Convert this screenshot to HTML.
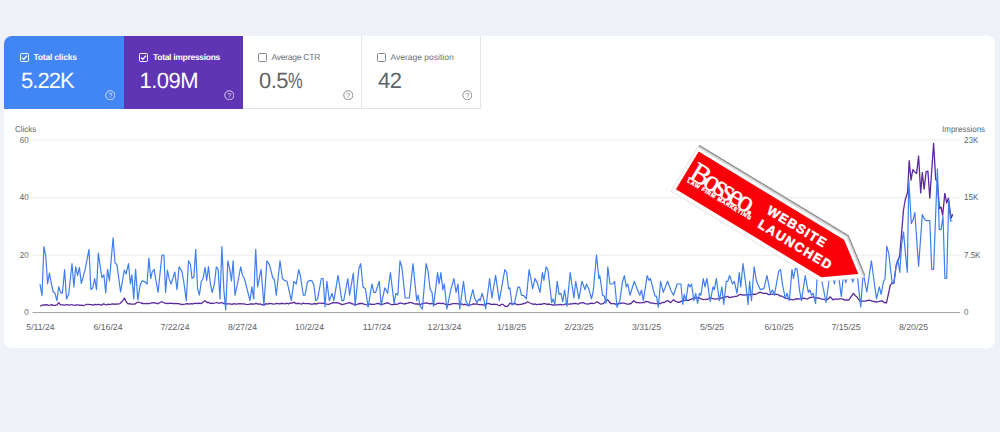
<!DOCTYPE html>
<html>
<head>
<meta charset="utf-8">
<title>Performance</title>
<style>
html,body{margin:0;padding:0;}
body{text-rendering:geometricPrecision;width:1000px;height:432px;overflow:hidden;background:#eff3f8;font-family:"Liberation Sans",sans-serif;position:relative;}
.card{position:absolute;left:4.2px;top:35.5px;width:990.7px;height:312px;background:#fff;border-radius:8px;}
.tile{position:absolute;top:35.5px;height:73px;box-sizing:border-box;}
.t1{left:4.2px;width:119.8px;background:#4285f4;border-top-left-radius:8px;color:#fff;}
.t2{left:124px;width:119px;background:#6035b4;color:#fff;}
.t3{left:243px;width:119px;background:#fff;color:#5f6368;border-right:1px solid #e3e5e8;border-bottom:1px solid #e3e5e8;}
.t4{left:362px;width:119px;background:#fff;color:#5f6368;border-right:1px solid #e3e5e8;border-bottom:1px solid #e3e5e8;}
.cb{position:absolute;left:15.5px;top:17.4px;width:9px;height:9px;box-sizing:border-box;border:1.2px solid currentColor;border-radius:1.5px;}
.cb svg{position:absolute;left:-1.2px;top:-1.2px;}
.lbl{position:absolute;left:29px;top:15.5px;font-size:8.5px;line-height:12px;white-space:nowrap;}
.t1 .cb,.t1 .lbl,.t1 .val{margin-left:.3px}
.t1 .lbl,.t2 .lbl{font-weight:bold;letter-spacing:-0.2px;}
.val{position:absolute;left:16.5px;top:32.2px;font-size:22px;line-height:26px;white-space:nowrap;letter-spacing:-0.5px;}
.t3 .cb,.t4 .cb{left:15px;color:#80868b;}
.t3 .lbl,.t4 .lbl{left:28.5px;color:#6b7075;}
.t3 .val,.t4 .val{left:16px;}
.t1 .val{letter-spacing:-0.95px}
.t2 .val{left:15.5px}
.t2 .cb{left:14.9px}
.t2 .lbl{letter-spacing:-0.3px}
.t3 .lbl{letter-spacing:-0.25px}
.t1 .help{left:100.5px}
.pct{display:inline-block;transform:scaleX(.75);transform-origin:left center;}
.help{position:absolute;left:99.7px;top:54.2px;width:10.6px;height:10.6px;}
.ax{position:absolute;font-size:8.6px;line-height:10px;color:#5f6368;white-space:nowrap;transform:scaleX(.93);transform-origin:left center;}
.axr{transform-origin:right center;}
.dt{position:absolute;top:322px;width:60px;margin-left:-30px;text-align:center;font-size:8.7px;line-height:10px;color:#5f6368;white-space:nowrap;}
svg.chart{position:absolute;left:0;top:0;}
</style>
</head>
<body>
<div class="card"></div>

<div class="tile t1">
  <div class="cb"><svg width="9" height="9" viewBox="0 0 9 9"><path d="M2 4.6 L3.8 6.3 L7 2.6" fill="none" stroke="#fff" stroke-width="1.3"/></svg></div>
  <div class="lbl">Total clicks</div>
  <div class="val">5.22K</div>
  <svg class="help" viewBox="0 0 10 10"><circle cx="5" cy="5" r="4.3" fill="none" stroke="#fff" stroke-opacity="0.8" stroke-width="0.9"/><text x="5" y="7.4" font-size="6.8" font-family="Liberation Sans" fill="#fff" fill-opacity="0.85" text-anchor="middle">?</text></svg>
</div>
<div class="tile t2">
  <div class="cb"><svg width="9" height="9" viewBox="0 0 9 9"><path d="M2 4.6 L3.8 6.3 L7 2.6" fill="none" stroke="#fff" stroke-width="1.3"/></svg></div>
  <div class="lbl">Total impressions</div>
  <div class="val">1.09M</div>
  <svg class="help" viewBox="0 0 10 10"><circle cx="5" cy="5" r="4.3" fill="none" stroke="#fff" stroke-opacity="0.8" stroke-width="0.9"/><text x="5" y="7.4" font-size="6.8" font-family="Liberation Sans" fill="#fff" fill-opacity="0.85" text-anchor="middle">?</text></svg>
</div>
<div class="tile t3">
  <div class="cb"></div>
  <div class="lbl">Average CTR</div>
  <div class="val">0.5<span class="pct">%</span></div>
  <svg class="help" viewBox="0 0 10 10"><circle cx="5" cy="5" r="4.3" fill="none" stroke="#80868b" stroke-width="0.9"/><text x="5" y="7.4" font-size="6.8" font-family="Liberation Sans" fill="#80868b" text-anchor="middle">?</text></svg>
</div>
<div class="tile t4">
  <div class="cb"></div>
  <div class="lbl">Average position</div>
  <div class="val">42</div>
  <svg class="help" viewBox="0 0 10 10"><circle cx="5" cy="5" r="4.3" fill="none" stroke="#80868b" stroke-width="0.9"/><text x="5" y="7.4" font-size="6.8" font-family="Liberation Sans" fill="#80868b" text-anchor="middle">?</text></svg>
</div>

<div class="ax" style="left:15px;top:123.7px;">Clicks</div>
<div class="ax axr" style="left:8px;width:20.6px;text-align:right;top:134.7px;">60</div>
<div class="ax axr" style="left:8px;width:20.6px;text-align:right;top:192.4px;">40</div>
<div class="ax axr" style="left:8px;width:20.6px;text-align:right;top:249.8px;">20</div>
<div class="ax axr" style="left:8px;width:20.6px;text-align:right;top:307.1px;">0</div>

<div class="ax" style="left:941.5px;top:123.7px;">Impressions</div>
<div class="ax" style="left:964px;top:134.7px;">23K</div>
<div class="ax" style="left:964px;top:192.4px;">15K</div>
<div class="ax" style="left:964px;top:249.8px;">7.5K</div>
<div class="ax" style="left:964px;top:307.1px;">0</div>

<div class="dt" style="left:40.5px;">5/11/24</div>
<div class="dt" style="left:108px;">6/16/24</div>
<div class="dt" style="left:175px;">7/22/24</div>
<div class="dt" style="left:242.5px;">8/27/24</div>
<div class="dt" style="left:309.5px;">10/2/24</div>
<div class="dt" style="left:377px;">11/7/24</div>
<div class="dt" style="left:444.5px;">12/13/24</div>
<div class="dt" style="left:511.5px;">1/18/25</div>
<div class="dt" style="left:579px;">2/23/25</div>
<div class="dt" style="left:646.5px;">3/31/25</div>
<div class="dt" style="left:712px;">5/5/25</div>
<div class="dt" style="left:779px;">6/10/25</div>
<div class="dt" style="left:846px;">7/15/25</div>
<div class="dt" style="left:913.5px;">8/20/25</div>

<svg class="chart" width="1000" height="432" viewBox="0 0 1000 432">
  <g stroke="#ececec" stroke-width="1">
    <line x1="32.5" y1="140.1" x2="960" y2="140.1"/>
    <line x1="32.5" y1="197.8" x2="960" y2="197.8"/>
    <line x1="32.5" y1="255.2" x2="960" y2="255.2"/>
  </g>
  <line x1="32.5" y1="312.5" x2="960" y2="312.5" stroke="#a6a6a6" stroke-width="1"/>
  <path d="M40.0 306.3 L42.0 305.2 L43.5 304.9 L45.0 305.0 L46.7 304.6 L48.3 305.3 L50.0 305.2 L51.7 304.7 L53.3 305.4 L55.0 305.4 L57.0 304.8 L58.7 302.6 L60.5 304.8 L62.8 304.8 L65.0 305.2 L66.7 304.5 L68.3 305.1 L70.0 305.0 L71.7 304.5 L73.3 305.2 L75.0 305.4 L76.7 304.8 L78.3 304.8 L80.0 305.4 L81.7 305.2 L83.3 305.6 L85.0 305.0 L86.7 304.3 L88.3 304.3 L90.0 304.6 L91.7 304.7 L93.3 305.1 L95.0 304.4 L96.7 304.6 L98.3 304.4 L100.0 304.6 L101.7 305.2 L103.3 303.8 L105.0 304.4 L106.7 305.0 L108.3 304.2 L110.0 304.6 L111.7 304.0 L113.3 303.9 L115.0 304.4 L116.7 303.8 L118.3 304.2 L120.0 303.5 L122.5 301.0 L124.4 298.0 L126.3 302.0 L128.0 303.9 L129.5 303.6 L131.0 304.2 L133.0 304.2 L135.0 304.0 L137.0 302.5 L138.5 302.0 L141.0 303.0 L143.0 303.5 L145.0 303.7 L146.7 303.5 L148.3 303.6 L150.0 303.5 L151.7 302.8 L153.3 302.7 L155.0 303.2 L156.5 303.1 L158.0 303.8 L160.0 302.5 L162.0 301.7 L164.0 302.8 L166.0 303.4 L168.0 303.5 L169.8 303.4 L171.5 303.2 L173.2 303.6 L175.0 303.5 L176.7 303.6 L178.3 303.6 L180.0 304.0 L181.7 304.5 L183.3 304.4 L185.0 304.2 L186.7 303.7 L188.3 304.0 L190.0 303.8 L191.7 303.6 L193.3 303.9 L195.0 303.2 L196.7 303.6 L198.3 303.1 L200.0 303.5 L201.5 303.4 L203.0 302.0 L205.0 300.7 L207.0 302.5 L208.5 302.4 L210.0 303.3 L211.7 303.1 L213.3 303.5 L215.0 303.0 L216.7 302.5 L218.3 303.1 L220.0 303.1 L221.7 302.5 L223.3 303.5 L225.0 303.3 L226.7 303.9 L228.3 303.8 L230.0 303.9 L232.0 304.4 L234.0 303.6 L236.0 304.1 L238.0 303.9 L240.0 303.7 L242.0 303.9 L244.0 303.8 L246.0 304.4 L248.0 304.6 L250.0 304.0 L252.0 303.9 L254.0 304.1 L256.0 303.3 L258.0 304.1 L260.0 303.8 L261.5 304.5 L263.0 304.8 L264.5 304.9 L266.0 303.6 L267.8 304.1 L269.6 303.4 L271.4 303.6 L273.2 304.1 L275.0 303.9 L277.0 303.3 L279.0 303.9 L281.0 303.5 L283.0 303.4 L285.0 304.0 L286.8 303.2 L288.5 304.0 L290.2 302.9 L292.0 303.2 L294.0 302.2 L296.0 303.6 L297.8 303.3 L299.6 303.5 L301.4 304.2 L303.2 303.1 L305.0 303.7 L307.0 303.6 L309.0 303.7 L311.0 304.1 L313.0 304.0 L315.0 303.5 L316.8 304.0 L318.5 303.1 L320.2 303.2 L322.0 303.3 L323.5 303.2 L325.0 303.5 L326.7 304.1 L328.3 304.3 L330.0 303.8 L331.7 303.0 L333.3 302.7 L335.0 302.8 L336.7 302.7 L338.3 303.0 L340.0 303.6 L342.0 304.6 L344.0 304.1 L346.0 303.6 L347.5 303.2 L349.0 302.6 L350.5 302.9 L352.0 303.9 L353.5 303.9 L355.0 305.2 L356.5 304.5 L358.0 304.0 L360.0 303.5 L362.0 303.4 L364.0 304.1 L366.0 304.6 L368.0 304.9 L370.0 304.0 L372.0 304.4 L374.0 304.3 L376.0 303.9 L378.0 303.4 L380.0 304.1 L382.0 304.4 L384.0 303.9 L386.0 303.0 L388.0 302.9 L390.0 304.0 L391.7 304.6 L393.3 304.5 L395.0 304.2 L396.7 304.3 L398.3 303.8 L400.0 302.9 L402.0 303.3 L404.0 304.0 L406.0 303.5 L408.0 303.2 L410.0 302.4 L412.0 302.8 L414.0 303.6 L416.0 304.0 L418.0 303.9 L420.0 305.0 L421.7 303.8 L423.3 303.4 L425.0 303.2 L426.7 303.0 L428.3 303.4 L430.0 303.9 L431.7 303.5 L433.3 303.7 L435.0 304.6 L436.7 303.7 L438.3 303.2 L440.0 303.4 L441.7 303.5 L443.3 303.3 L445.0 304.2 L446.7 304.9 L448.3 304.6 L450.0 304.6 L451.7 303.8 L453.3 303.6 L455.0 303.6 L456.7 303.7 L458.3 303.9 L460.0 304.4 L461.7 303.8 L463.3 304.8 L465.0 304.2 L466.7 305.1 L468.3 304.6 L470.0 304.8 L471.7 304.6 L473.3 303.8 L475.0 304.2 L476.7 303.8 L478.3 304.4 L480.0 304.8 L481.7 304.4 L483.3 305.1 L485.0 304.6 L486.7 303.9 L488.3 303.4 L490.0 303.8 L491.7 304.6 L493.3 304.2 L495.0 304.4 L496.7 304.3 L498.3 305.3 L500.0 305.6 L501.5 304.3 L503.0 304.4 L505.0 306.3 L507.6 306.3 L510.0 303.2 L512.0 304.2 L513.5 303.9 L515.0 303.5 L516.7 304.5 L518.3 304.6 L520.0 304.4 L521.7 304.4 L523.3 303.5 L525.0 303.6 L527.6 301.7 L530.0 303.0 L531.5 303.5 L533.0 304.4 L534.8 303.9 L536.5 304.7 L538.2 304.3 L540.0 304.2 L541.7 304.4 L543.3 303.6 L545.0 303.6 L547.0 304.4 L548.5 304.0 L550.0 304.3 L552.0 304.8 L554.0 305.0 L556.0 304.9 L558.0 304.8 L560.0 304.4 L562.0 304.8 L564.0 304.6 L566.0 303.8 L568.0 304.1 L570.0 304.0 L572.0 303.8 L574.0 303.4 L576.0 303.5 L578.0 304.2 L580.0 303.1 L582.0 302.6 L583.5 302.8 L585.0 303.6 L586.7 303.8 L588.3 304.1 L590.0 303.4 L591.7 303.2 L593.3 303.7 L595.0 303.0 L597.0 301.7 L599.0 303.0 L600.5 304.1 L602.0 303.8 L603.5 303.4 L605.0 301.7 L607.8 299.8 L610.6 303.5 L612.4 303.6 L614.2 303.7 L616.0 304.4 L618.0 303.6 L620.0 303.5 L621.8 303.1 L623.7 303.1 L625.5 303.7 L627.3 304.1 L629.2 304.0 L631.0 303.5 L633.7 300.7 L636.5 302.6 L638.3 302.6 L640.2 302.8 L642.0 302.6 L643.9 302.7 L645.7 301.4 L647.6 301.7 L649.4 302.4 L651.2 303.2 L653.0 303.1 L654.9 303.6 L656.8 303.7 L658.7 303.4 L660.6 303.5 L662.5 302.3 L664.3 302.5 L666.1 301.2 L668.0 300.7 L670.7 302.6 L673.5 299.8 L675.4 301.3 L677.2 302.0 L679.1 302.3 L681.0 301.3 L682.8 300.8 L684.7 300.4 L686.5 300.2 L688.3 300.4 L690.2 299.6 L692.0 298.9 L693.9 298.1 L695.7 297.8 L697.6 298.0 L699.5 298.0 L701.3 298.9 L703.5 299.7 L705.6 299.4 L707.4 299.4 L709.2 298.0 L711.0 298.0 L712.9 298.7 L714.8 299.1 L716.6 298.9 L718.5 298.9 L720.4 298.2 L722.2 298.0 L724.1 297.0 L726.0 297.0 L727.8 296.3 L729.5 297.7 L731.2 297.2 L733.0 297.0 L734.9 296.4 L736.9 296.3 L738.8 294.9 L740.7 294.3 L742.5 295.0 L744.4 295.2 L746.2 294.6 L748.0 295.2 L749.9 294.6 L751.8 294.5 L753.7 294.2 L755.6 294.3 L757.5 293.5 L759.3 292.4 L761.1 292.5 L763.0 293.3 L764.9 293.4 L766.7 293.3 L768.5 294.6 L770.4 294.3 L772.2 294.1 L774.1 294.2 L775.9 294.4 L777.8 294.3 L779.6 295.8 L781.5 296.0 L783.3 297.0 L785.2 298.2 L787.1 298.3 L789.0 298.9 L790.8 299.4 L792.6 299.8 L794.5 299.6 L796.3 298.7 L798.1 299.0 L800.0 298.9 L802.0 298.5 L804.0 298.2 L806.0 298.9 L807.9 298.8 L809.8 297.5 L811.6 297.4 L813.5 297.0 L815.4 297.8 L817.2 298.0 L819.1 298.2 L821.0 298.9 L822.8 299.2 L824.7 299.6 L826.5 299.8 L828.4 298.8 L830.2 297.0 L833.0 299.8 L835.1 298.9 L837.3 299.3 L839.4 298.9 L841.3 298.8 L843.1 299.1 L845.0 300.1 L846.8 300.0 L848.7 300.2 L851.0 296.8 L853.3 293.3 L855.1 295.5 L857.0 297.0 L858.9 299.9 L860.7 301.7 L862.8 301.2 L864.9 301.1 L866.9 300.6 L869.0 300.2 L870.9 300.7 L872.8 301.4 L874.6 301.5 L876.5 302.0 L878.3 301.7 L880.2 301.2 L882.0 300.9 L884.2 302.5 L886.5 302.8 L890.3 285.1 L892.2 282.8 L894.0 282.0 L896.0 267.0 L897.8 261.0 L899.7 256.0 L901.6 232.6 L903.5 210.0 L905.3 199.5 L907.6 192.2 L909.2 160.6 L911.0 180.1 L912.8 169.6 L914.8 171.9 L916.6 173.4 L918.6 156.1 L920.7 192.9 L922.3 172.6 L924.1 189.2 L926.1 171.9 L927.9 171.1 L929.8 198.2 L933.6 143.3 L935.7 179.4 L937.4 181.6 L939.4 208.6 L941.0 207.0 L942.7 215.1 L944.8 193.4 L946.7 203.0 L948.4 198.1 L951.1 218.3 L952.7 214.3" fill="none" stroke="#5a2a9e" stroke-width="1.3" stroke-linejoin="round"/>
  <path d="M40.0 284.1 L42.0 295.7 L43.9 246.5 L45.7 255.4 L47.6 284.0 L49.4 273.0 L51.3 283.5 L53.1 291.5 L55.0 293.3 L56.9 300.7 L58.7 286.9 L60.6 292.4 L62.4 293.3 L64.6 269.6 L66.5 298.9 L68.7 294.3 L72.0 263.7 L73.9 286.9 L75.7 266.9 L77.6 275.4 L79.4 267.4 L81.3 283.5 L85.0 270.2 L89.0 249.4 L90.9 289.6 L92.8 287.8 L94.6 278.5 L96.5 289.6 L98.3 253.0 L100.7 270.2 L102.0 277.6 L103.9 274.8 L105.7 292.8 L107.6 269.3 L109.4 280.9 L113.1 237.8 L115.0 262.8 L116.9 264.6 L120.6 292.0 L124.3 270.2 L126.1 273.9 L128.5 263.7 L130.4 284.0 L131.9 274.8 L133.7 298.9 L135.6 269.3 L137.8 299.8 L140.2 285.0 L142.0 280.9 L144.8 281.7 L147.0 284.0 L148.9 258.1 L150.7 278.5 L152.2 272.0 L154.1 269.3 L155.9 280.4 L158.1 292.4 L161.9 255.0 L163.9 255.0 L165.6 292.4 L167.4 270.2 L169.3 279.4 L171.1 284.0 L174.8 272.0 L177.0 289.6 L179.1 266.9 L181.9 271.1 L183.7 281.3 L186.3 300.7 L188.5 260.9 L190.4 264.3 L192.0 278.5 L193.9 276.7 L195.7 249.4 L197.6 288.7 L199.4 295.2 L201.3 281.3 L203.1 278.5 L205.0 267.4 L206.7 280.4 L208.5 266.5 L210.4 284.0 L212.2 292.4 L214.4 284.0 L216.3 266.9 L218.1 269.3 L220.0 298.9 L221.9 246.5 L223.9 290.6 L225.7 310.0 L227.8 260.9 L229.6 268.3 L231.5 280.9 L233.1 260.9 L235.0 295.2 L238.0 281.3 L240.7 266.9 L242.6 275.7 L244.4 278.5 L250.0 300.7 L251.9 286.9 L253.7 298.9 L255.7 249.4 L257.6 286.9 L261.1 269.3 L263.9 305.4 L266.9 260.9 L269.4 264.6 L272.8 278.0 L274.4 279.4 L276.3 295.2 L280.0 260.9 L282.4 278.5 L284.3 280.4 L287.0 281.3 L291.3 300.7 L293.9 281.3 L296.3 284.0 L298.7 269.6 L300.2 274.8 L303.3 295.2 L305.0 295.2 L307.4 282.2 L309.4 280.4 L312.0 280.9 L313.9 285.0 L315.7 300.7 L317.6 298.9 L321.3 278.5 L323.1 278.5 L325.0 306.8 L326.9 281.3 L329.3 300.7 L332.0 293.3 L333.9 300.7 L338.0 275.4 L341.9 300.7 L343.7 300.7 L347.8 278.5 L349.6 295.2 L353.3 273.0 L355.2 305.4 L358.9 268.3 L360.7 263.7 L363.0 286.9 L365.4 288.7 L368.1 307.2 L371.9 284.0 L373.7 292.4 L375.6 292.4 L379.3 281.3 L381.1 305.4 L384.8 287.8 L387.6 293.3 L390.4 272.6 L394.1 303.5 L395.9 293.3 L397.8 295.2 L400.0 260.9 L401.9 267.4 L405.2 298.0 L409.3 298.0 L413.0 263.7 L416.7 300.7 L418.1 295.2 L420.2 306.3 L422.4 309.0 L426.1 263.7 L428.0 271.1 L430.2 289.6 L432.0 292.4 L433.5 306.3 L437.6 272.6 L439.1 284.0 L440.9 272.6 L442.8 289.6 L444.3 284.0 L446.9 309.0 L450.6 290.6 L453.9 278.5 L456.1 292.4 L458.0 284.0 L459.8 309.0 L463.5 281.3 L465.9 300.7 L468.7 306.3 L472.8 289.6 L474.6 298.0 L477.0 302.6 L478.9 298.9 L480.2 300.7 L482.0 293.3 L483.5 298.0 L485.7 309.0 L489.6 278.5 L491.9 298.0 L495.6 275.4 L499.3 300.7 L504.8 269.6 L506.7 272.6 L508.5 288.7 L509.8 287.8 L512.2 305.0 L514.6 302.6 L517.8 287.2 L519.6 287.2 L521.5 295.2 L523.9 295.7 L526.3 298.9 L529.1 269.6 L530.9 278.5 L532.6 288.7 L535.0 278.5 L537.4 283.1 L540.0 292.4 L542.4 272.6 L543.9 280.4 L546.1 266.9 L548.0 270.2 L551.7 302.6 L553.0 298.9 L554.8 304.4 L557.2 281.3 L559.1 294.3 L560.9 293.3 L562.8 301.7 L564.6 290.0 L566.9 306.3 L570.2 272.6 L573.9 298.0 L575.7 281.3 L578.9 298.9 L581.9 281.3 L585.0 289.6 L586.5 284.0 L588.7 288.7 L591.5 298.9 L593.3 290.6 L596.5 255.0 L598.9 278.5 L599.8 275.7 L602.6 295.2 L604.4 296.1 L605.9 303.5 L607.8 266.9 L610.0 284.0 L612.8 284.0 L614.6 281.3 L617.0 307.2 L619.8 300.7 L622.6 281.3 L624.4 275.7 L626.3 286.9 L627.8 284.0 L630.0 295.2 L634.3 281.3 L637.4 289.6 L639.8 295.2 L641.5 290.0 L643.3 300.7 L647.2 275.7 L648.9 280.4 L650.4 278.5 L655.0 296.1 L656.5 296.1 L658.3 307.2 L660.6 281.3 L663.3 292.4 L667.6 281.3 L670.7 290.0 L673.5 295.2 L677.2 284.0 L680.9 284.0 L682.8 304.4 L684.3 294.3 L685.9 300.7 L688.3 284.0 L689.8 286.9 L691.5 284.0 L693.9 300.7 L695.7 293.3 L697.6 303.5 L699.4 293.3 L700.9 295.2 L703.3 278.5 L705.0 286.9 L706.9 278.5 L710.2 301.7 L713.0 286.9 L714.4 289.6 L716.3 278.5 L719.4 300.7 L721.9 286.9 L723.7 304.4 L726.3 281.3 L727.8 281.3 L729.6 275.4 L732.4 284.0 L734.3 281.3 L737.0 293.3 L739.3 272.6 L740.7 286.9 L743.0 263.7 L745.4 281.3 L748.1 304.4 L749.6 281.3 L751.5 300.7 L754.1 266.9 L756.5 281.3 L760.2 289.6 L763.9 288.7 L767.0 275.7 L770.4 293.3 L772.6 290.0 L774.4 295.2 L778.7 271.1 L780.6 269.6 L782.4 284.0 L785.2 298.0 L787.0 293.3 L789.3 300.7 L792.0 269.6 L793.5 278.5 L795.4 268.3 L797.2 269.6 L799.6 290.6 L801.5 300.7 L805.2 275.7 L808.3 292.4 L809.8 290.0 L811.7 295.2 L813.1 293.3 L815.6 303.6 L817.5 270.0 L819.4 268.0 L821.3 278.0 L823.2 288.0 L826.0 302.5 L829.7 276.0 L831.5 270.0 L834.4 284.0 L836.3 270.0 L838.2 272.0 L841.3 296.7 L843.6 274.0 L845.9 282.8 L847.8 270.0 L849.7 272.0 L852.9 282.2 L854.8 272.0 L856.7 270.0 L860.7 307.0 L862.7 279.0 L863.6 274.8 L866.8 292.0 L871.4 260.8 L873.7 278.5 L876.5 298.9 L879.3 286.9 L881.1 294.3 L883.5 281.3 L885.0 279.0 L886.8 246.2 L888.8 253.7 L892.2 283.6 L894.0 283.6 L896.0 265.5 L897.8 259.5 L899.8 272.3 L901.6 244.7 L903.5 231.9 L905.3 252.2 L907.3 272.3 L908.8 180.1 L911.3 223.6 L913.1 219.8 L914.8 212.3 L918.6 266.3 L922.3 214.6 L924.1 218.3 L926.1 220.6 L929.8 220.6 L931.7 269.3 L933.6 269.3 L937.4 168.9 L939.2 229.6 L941.1 229.6 L943.0 216.0 L944.9 278.3 L946.7 278.3 L948.7 200.0 L950.5 220.6 L952.4 221.3" fill="none" stroke="#3f7eee" stroke-width="1.2" stroke-linejoin="round"/>

  <g transform="translate(698.7 151.6) rotate(31.2)">
    <polygon points="-3.2,-3.2 171.05,-3.2 206.26,22.62 171.37,48.2 -3.2,48.2" fill="#7c7c7c" transform="translate(0.50 -3.00)"/>
    <polygon points="-3.2,-3.2 171.05,-3.2 206.26,22.62 171.37,48.2 -3.2,48.2" fill="#a8a8a8" transform="translate(0.38 -2.25)"/>
    <polygon points="-3.2,-3.2 171.05,-3.2 206.26,22.62 171.37,48.2 -3.2,48.2" fill="#d2d2d2" transform="translate(0.25 -1.50)"/>
    <polygon points="-3.2,-3.2 171.05,-3.2 206.26,22.62 171.37,48.2 -3.2,48.2" fill="#ebebeb" transform="translate(0.12 -0.75)"/>
    <polygon points="-3.2,-3.2 171.05,-3.2 206.26,22.62 171.37,48.2 -3.2,48.2" fill="#fff" stroke="#d8d8d8" stroke-width="0.6"/>
    <polygon points="0,0 170,0 200,22 170,44 0,44" fill="#fa0008"/>
    <text x="4.3" y="27.7" font-family="Liberation Serif" font-size="28.5" letter-spacing="-3.15" fill="#fff" stroke="#fff" stroke-width="0.4">B<tspan font-size="30">osseo.</tspan></text>
    <text x="5.5" y="32" font-family="Liberation Sans" font-weight="bold" font-size="5.4" letter-spacing="0.75" fill="#fff" stroke="#fff" stroke-width="0.35">LAW FIRM MARKETING</text>
    <text x="89.3" y="17.6" font-family="Liberation Sans" font-weight="bold" font-size="13" letter-spacing="1.25" fill="#fff" stroke="#fff" stroke-width="0.5">WEBSITE</text>
    <text x="88.7" y="34.1" font-family="Liberation Sans" font-weight="bold" font-size="13" letter-spacing="1.5" fill="#fff" stroke="#fff" stroke-width="0.5">LAUNCHED</text>
  </g>
</svg>
</body>
</html>
